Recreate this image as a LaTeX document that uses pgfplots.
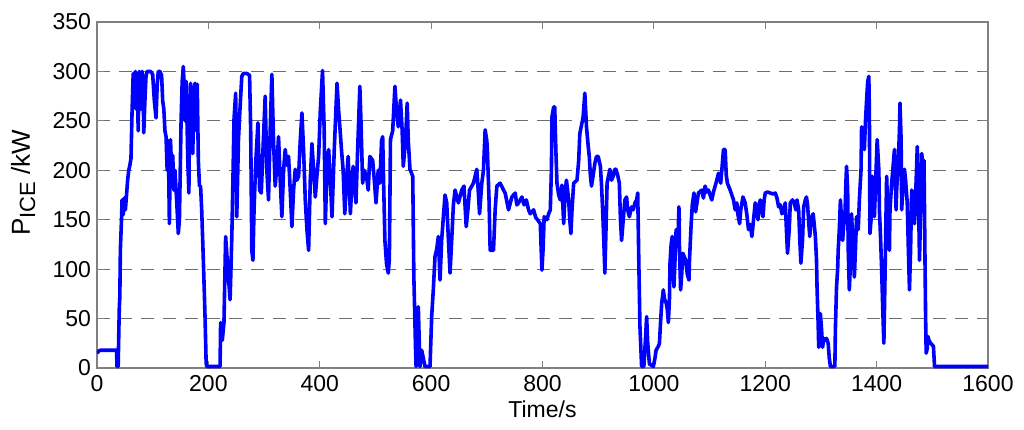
\documentclass[border=0pt]{standalone}
\usepackage{pgfplots}
\pgfplotsset{compat=1.18}
\usepackage{fontspec}
\setmainfont{Liberation Sans}
\definecolor{axgray}{RGB}{128,128,128}
\definecolor{grdgray}{RGB}{110,110,110}
\begin{document}
\begin{tikzpicture}
\begin{axis}[
  name=ax,
  scale only axis,
  width=445.5pt, height=173pt,
  xmin=0, xmax=1600, ymin=0, ymax=350,
  xtick={0,200,...,1600}, ytick={0,50,...,350},
  tick align=inside,
  major tick length=3.5pt,
  tick style={axgray, line width=0.5pt},
  axis line style={axgray, line width=0.6pt},
  ymajorgrids,
  major grid style={grdgray, line width=0.5pt, dash pattern=on 6.5pt off 4.5pt},
  tick label style={font=\fontsize{11.5}{13}\selectfont},
  /pgf/number format/assume math mode=true,
  /pgf/number format/1000 sep={},
  xticklabel style={anchor=base, yshift=-11.5pt},
  yticklabel style={anchor=east, xshift=0.5pt},
  xlabel={Time/s},
  ylabel={P{\fontsize{11}{12}\selectfont\raisebox{-0.45ex}{ICE}} /kW},
  xlabel style={font=\fontsize{11.5}{13}\selectfont, at={(axis description cs:0.5,0)}, anchor=base, yshift=-24.5pt},
  ylabel style={font=\fontsize{13}{15}\selectfont, at={(axis description cs:-0.0752,0.535)}, anchor=base},
  clip=true,
]
\addplot[color={rgb,255:red,0;green,0;blue,255}, line width=1.8pt, line join=round] table {
t v
0 15
3 17
6 18
35 18
36 1.5
38 1.5
40 60
41 72
42 120
44 150
45 170
47 155
49 172
51 160
53 175
55 190
57 200
59 205
61 212
63 260
65 298
66 298
68 270
69 300
70 262
72 295
74 240
75 280
76 300
78 285
79 262
80 290
81 300
83 280
84 238
86 270
88 295
90 300
92 300
96 300
100 297
103 270
106 253
108 285
110 300
113 300
116 296
118 270
120 262
122 240
124 234
126 200
128 230
130 146
132 231
134 200
136 215
138 180
140 200
143 170
146 136
148 150
151 250
153 290
155 305
157 280
158 250
160 290
162 240
163 210
165 177
166 240
168 288
170 270
172 217
174 280
176 288
178 240
180 287
182 210
184 184
186 184
188 160
190 126
192 90
194 52
196 5
197 1.5
221 1.5
222 46
225 28
228 46
231 133
235 100
239 69
242 130
244 187
246 251
249 278
251 153
254 230
256 254
260 295
263 298
269 298
274 296
276 240
278 119
280 109
282 160
285 207
289 248
292 180
295 177
298 220
302 275
305 200
308 170
311 240
314 297
317 230
320 184
323 205
326 234
329 190
332 153
335 200
338 221
341 205
344 214
347 180
350 143
353 180
356 201
359 190
362 194
365 230
368 258
371 220
374 170
377 140
380 119
383 190
386 227
389 200
392 173
395 195
398 214
401 260
405 301
408 240
410 146
413 200
416 221
419 190
422 153
426 220
431 288
434 260
437 237
439 221
442 200
445 156
448 190
451 214
455 156
458 190
460 204
465 167
468 220
472 285
474 250
477 187
480 200
484 194
487 180
490 214
495 210
498 190
501 167
505 200
508 187
511 230
513 234
515 180
517 129
520 105
523 96
525 110
527 231
531 240
535 285
538 260
541 244
545 271
548 240
550 204
554 230
557 268
559 230
562 201
567 194
569 92
572 20
573 1.5
575 40
577 62
579 20
580 1.5
583 18
586 10
589 1.5
598 1.5
601 52
604 80
607 113
610 120
613 133
616 89
619 130
622 153
625 175
628 167
631 130
634 96
637 130
640 165
643 180
649 167
655 180
659 184
663 143
666 160
669 180
676 187
682 201
684 185
687 156
691 187
694 200
697 241
700 230
701 221
704 170
706 119
712 119
715 160
718 184
724 187
730 180
733 177
739 160
745 173
751 177
754 165
757 167
763 173
767 165
771 170
775 160
778 156
784 160
788 152
791 150
796 146
799 99
801 120
803 153
808 150
811 156
814 160
816 200
817 254
820 264
822 264
824 220
826 187
829 175
832 170
835 185
838 146
841 180
843 190
847 170
849 150
851 136
853 160
856 187
862 190
865 210
867 237
873 254
876 278
879 244
882 225
884 214
886 195
888 184
891 195
894 207
897 214
900 214
904 204
906 185
908 160
910 130
912 96
914 140
916 187
921 201
924 190
927 194
930 201
932 201
935 195
938 187
940 150
942 129
945 150
948 170
951 173
953 160
956 153
960 163
963 160
966 167
969 170
971 177
973 106
975 42
978 1.5
982 1.5
985 30
987 52
989 25
992 4
999 1.5
1002 10
1004 18
1008 22
1010 25
1012 46
1014 65
1017 79
1019 70
1022 66
1024 60
1026 46
1028 70
1029 106
1031 125
1033 133
1035 110
1036 82
1038 110
1040 140
1043 125
1045 163
1046 120
1048 79
1050 95
1052 116
1055 112
1057 109
1060 95
1063 89
1064 110
1067 146
1069 165
1072 177
1075 158
1080 177
1086 180
1089 172
1092 184
1095 178
1098 180
1101 175
1104 170
1107 178
1110 184
1113 190
1116 197
1119 190
1120 187
1122 200
1125 221
1128 221
1130 195
1132 187
1137 180
1140 175
1143 170
1146 160
1149 167
1151 155
1154 146
1156 160
1160 173
1164 167
1167 155
1170 140
1173 145
1176 133
1179 150
1182 167
1185 160
1187 150
1189 165
1191 170
1193 160
1196 153
1198 170
1200 177
1204 178
1209 177
1214 176
1218 177
1221 172
1224 163
1227 165
1230 156
1233 160
1236 167
1238 140
1240 116
1243 140
1245 167
1249 170
1252 167
1255 160
1257 170
1260 160
1262 130
1264 106
1267 130
1269 163
1272 170
1274 173
1276 165
1279 140
1280 133
1282 150
1286 156
1288 145
1290 133
1292 110
1293 82
1295 45
1296 21
1299 55
1301 40
1303 21
1305 30
1307 28
1310 30
1313 25
1315 10
1317 1.5
1325 1.5
1326 40
1328 82
1330 100
1331 119
1333 140
1335 170
1337 150
1339 129
1341 145
1343 153
1345 190
1346 204
1348 180
1349 120
1351 79
1354 120
1355 156
1357 130
1360 92
1362 120
1364 153
1367 140
1369 170
1372 200
1373 244
1375 230
1378 221
1380 250
1382 271
1384 290
1386 295
1387 260
1388 136
1390 150
1392 194
1394 170
1396 153
1399 200
1401 231
1404 200
1405 160
1407 133
1409 100
1411 60
1413 25
1415 90
1417 160
1418 194
1421 140
1423 119
1424 160
1427 187
1429 200
1432 221
1433 200
1435 160
1436 180
1439 210
1441 240
1442 268
1444 230
1445 160
1447 180
1450 201
1452 190
1455 167
1457 120
1459 79
1461 120
1463 180
1466 160
1468 146
1471 190
1473 224
1475 180
1477 109
1479 160
1481 217
1484 200
1485 210
1486 160
1487 102
1488 50
1489 15
1491 20
1492 32
1494 28
1497 25
1502 22
1504 1.5
1600 1.5
};
\end{axis}
\pgfresetboundingbox
\path ([xshift=-48.5pt,yshift=-30.5pt]ax.south west) rectangle ([xshift=18pt,yshift=11pt]ax.north east);
\end{tikzpicture}
\end{document}
